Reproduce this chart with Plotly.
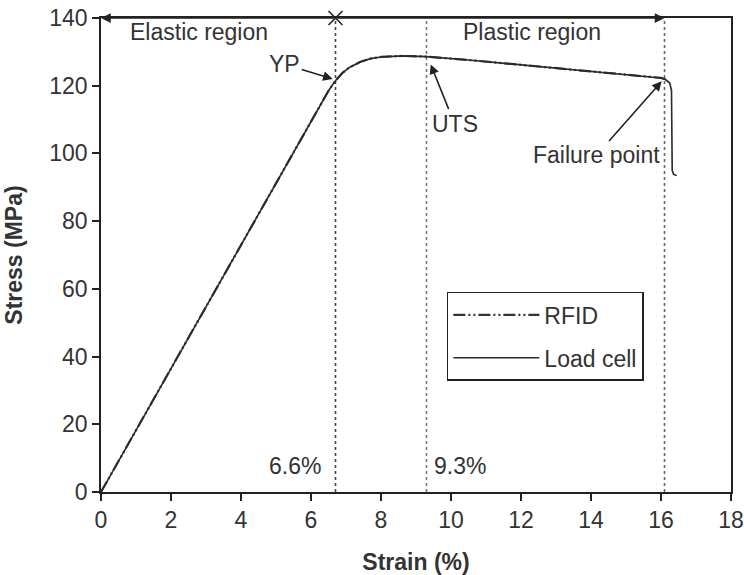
import plotly.graph_objects as go

# ---- data ----
load_strain = [0, 6.5, 6.7, 6.9, 7.1, 7.4, 7.7, 8.0, 8.6, 9.3, 10.5, 12.0, 14.0, 16.0, 16.12, 16.25, 16.3, 16.32, 16.36, 16.45]
load_stress = [0, 118.5, 121.5, 123.8, 125.4, 127.0, 128.0, 128.5, 128.8, 128.6, 127.6, 126.2, 124.2, 122.3, 121.9, 120.8, 118.6, 95.0, 93.8, 93.5]

rfid_strain = [0, 6.5, 6.7, 6.9, 7.1, 7.4, 7.7, 8.0, 8.6, 9.3, 10.5, 12.0, 14.0, 16.0, 16.12]
rfid_stress = [0, 118.5, 121.5, 123.8, 125.4, 127.0, 128.0, 128.5, 128.8, 128.6, 127.6, 126.2, 124.2, 122.3, 121.9]

yield_strain = 6.7
uts_strain = 9.3
failure_strain = 16.1
yield_label = "6.6%"
uts_label = "9.3%"

x_ticks = [0, 2, 4, 6, 8, 10, 12, 14, 16, 18]
y_ticks = [0, 20, 40, 60, 80, 100, 120, 140]

FONT = "Liberation Sans, Arial, sans-serif"
TXT = "#333333"
LINE = "#222222"
FS = 23

fig = go.Figure()

# vertical dotted guide lines
for xs, col in [(yield_strain, "#444444"), (uts_strain, "#777777"), (failure_strain, "#666666")]:
    fig.add_trace(go.Scatter(x=[xs, xs], y=[0, 140], mode="lines",
                             line=dict(color=col, width=1.6, dash="dot"),
                             showlegend=False, hoverinfo="skip"))

fig.add_trace(go.Scatter(x=rfid_strain, y=rfid_stress, mode="lines", name="RFID",
                         line=dict(color="#333333", width=2.2, dash="12px,3px,2px,3px,2px,3px"),
                         legendgroup="a"))
fig.add_trace(go.Scatter(x=load_strain, y=load_stress, mode="lines", name="Load cell",
                         line=dict(color="#2a2a2a", width=1.6),
                         legendgroup="b"))

# X marker at the boundary between regions on the top border
fig.add_trace(go.Scatter(x=[yield_strain], y=[140], mode="markers",
                         marker=dict(symbol="x-thin", size=14, line=dict(color=LINE, width=1.6)),
                         showlegend=False, hoverinfo="skip", cliponaxis=False))

ann = []
# region arrows along top
ann.append(dict(x=0, y=140, ax=yield_strain, ay=140, axref="x", ayref="y", xref="x", yref="y",
                text="", showarrow=True, arrowhead=2, arrowsize=1.3, arrowwidth=1.5, arrowcolor=LINE))
ann.append(dict(x=failure_strain, y=140, ax=yield_strain, ay=140, axref="x", ayref="y", xref="x", yref="y",
                text="", showarrow=True, arrowhead=2, arrowsize=1.3, arrowwidth=1.5, arrowcolor=LINE))
ann.append(dict(x=2.8, y=135.8, text="Elastic region", showarrow=False, xref="x", yref="y"))
ann.append(dict(x=12.3, y=135.8, text="Plastic region", showarrow=False, xref="x", yref="y"))
# point labels with arrows
ann.append(dict(x=6.62, y=122, ax=5.25, ay=126.3, axref="x", ayref="y", xref="x", yref="y",
                text="YP", showarrow=True, arrowhead=2, arrowsize=1.2, arrowwidth=1.6, arrowcolor=LINE))
ann.append(dict(x=9.42, y=126.3, ax=10.1, ay=108.8, axref="x", ayref="y", xref="x", yref="y",
                text="UTS", showarrow=True, arrowhead=2, arrowsize=1.2, arrowwidth=1.6, arrowcolor=LINE))
ann.append(dict(x=16.02, y=121.3, ax=14.15, ay=99.4, axref="x", ayref="y", xref="x", yref="y",
                text="Failure point", showarrow=True, arrowhead=2, arrowsize=1.2, arrowwidth=1.6, arrowcolor=LINE))
ann.append(dict(x=yield_strain - 0.35, y=7.7, text=yield_label, showarrow=False, xanchor="right",
                xref="x", yref="y"))
ann.append(dict(x=uts_strain + 0.15, y=7.7, text=uts_label, showarrow=False, xanchor="left",
                xref="x", yref="y"))
for a in ann:
    a["font"] = dict(family=FONT, size=FS, color=TXT)

fig.update_layout(
    width=744, height=575,
    margin=dict(l=101, r=13, t=18, b=83, autoexpand=False),
    paper_bgcolor="white", plot_bgcolor="white",
    font=dict(family=FONT, size=FS, color=TXT),
    annotations=ann,
    showlegend=True,
    legend=dict(x=0.549, y=0.422, xanchor="left", yanchor="top",
                bgcolor="white", bordercolor=LINE, borderwidth=1.5,
                font=dict(family=FONT, size=FS, color=TXT),
                tracegroupgap=10, itemwidth=86),
)
fig.update_xaxes(range=[0, 18], tickvals=x_ticks, showline=True, mirror=True, linecolor=LINE,
                 linewidth=1.6, ticks="outside", ticklen=7, tickwidth=1.5, tickcolor=LINE,
                 showgrid=False, zeroline=False, automargin=False, ticklabeloverflow="allow",
                 title=dict(text="<b>Strain (%)</b>", font=dict(family=FONT, size=FS, color=TXT), standoff=21))
fig.update_yaxes(range=[0, 140], tickvals=y_ticks, showline=True, mirror=True, linecolor=LINE,
                 linewidth=1.6, ticks="outside", ticklen=7, tickwidth=1.5, tickcolor=LINE,
                 showgrid=False, zeroline=False, automargin=False, ticklabeloverflow="allow",
                 title=dict(text="<b>Stress (MPa)</b>", font=dict(family=FONT, size=FS, color=TXT), standoff=20))

# remove the default 8px page margin so the figure sits at the window's corner
fig.write_html("out.html", config={"displayModeBar": False},
               post_script="document.body.style.margin='0';")
